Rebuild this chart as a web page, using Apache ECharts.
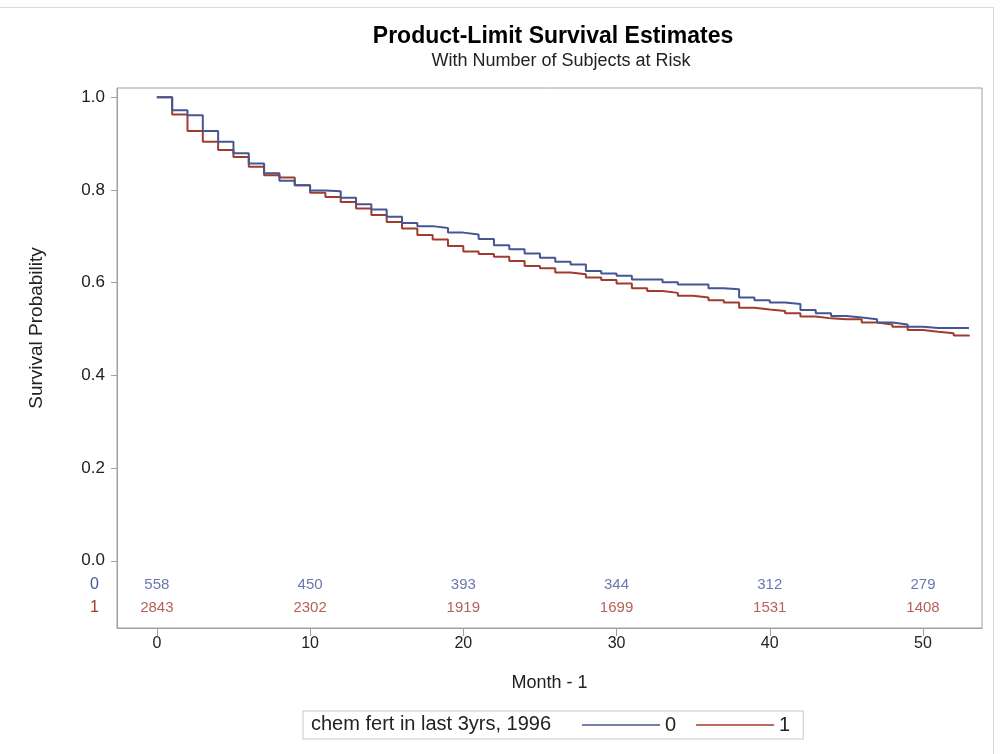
<!DOCTYPE html>
<html>
<head>
<meta charset="utf-8">
<script src="https://cdn.jsdelivr.net/npm/echarts@6/dist/echarts.min.js"></script>
<style>
  html, body { margin: 0; padding: 0; background: #fff; }
  #wrap { position: relative; width: 1000px; height: 754px; }
  #chart { width: 1000px; height: 754px; }
  #frame { position: absolute; left: 0; top: 7px; width: 993px; height: 760px;
           border-top: 1px solid #dcdcdc; border-right: 1px solid #dcdcdc; pointer-events: none; }
</style>
</head>
<body>
<div id="wrap">
<div id="chart"></div>
<div id="frame"></div>
</div>
<script>
// ---- data ----
const months = [0,1,2,3,4,5,6,7,8,9,10,11,12,13,14,15,16,17,18,19,20,21,22,23,24,25,26,27,28,29,30,31,32,33,34,35,36,37,38,39,40,41,42,43,44,45,46,47,48,49,50,51,52,53];
const survival0 = [1.000,0.972,0.961,0.927,0.904,0.879,0.857,0.836,0.820,0.810,0.799,0.797,0.783,0.769,0.758,0.742,0.729,0.722,0.718,0.708,0.704,0.694,0.681,0.672,0.663,0.654,0.645,0.639,0.625,0.620,0.615,0.607,0.607,0.601,0.596,0.596,0.588,0.586,0.568,0.562,0.557,0.554,0.541,0.534,0.528,0.525,0.521,0.514,0.510,0.505,0.502,0.502,0.502,0.502];
const survival1 = [1.000,0.963,0.927,0.904,0.886,0.871,0.850,0.832,0.827,0.810,0.794,0.785,0.774,0.760,0.746,0.731,0.717,0.703,0.693,0.679,0.667,0.662,0.656,0.647,0.636,0.631,0.622,0.618,0.611,0.606,0.598,0.588,0.582,0.578,0.572,0.568,0.562,0.557,0.546,0.542,0.539,0.534,0.527,0.523,0.521,0.521,0.514,0.510,0.505,0.498,0.494,0.491,0.486,0.484];
const riskMonths = [0,10,20,30,40,50];
const atRisk0 = [558,450,393,344,312,279];
const atRisk1 = [2843,2302,1919,1699,1531,1408];
const xTicks = [0,10,20,30,40,50];
const yTicks = [0,0.2,0.4,0.6,0.8,1.0];
const groupNames = ['0','1'];

// ---- styling constants ----
const FONT = "'Liberation Sans', Arial, sans-serif";
const BLUE = '#445694';
const RED = '#A23A2E';
const ROW0 = -0.052, ROW1 = -0.101;

const line0 = months.map((m, i) => [m, survival0[i]]);
const line1 = months.map((m, i) => [m, survival1[i]]);
const risk0 = riskMonths.map((m, i) => [m, ROW0, atRisk0[i]]);
const risk1 = riskMonths.map((m, i) => [m, ROW1, atRisk1[i]]);

const chart = echarts.init(document.getElementById('chart'), null, { renderer: 'canvas' });
chart.setOption({
  animation: false,
  backgroundColor: '#fff',
  textStyle: { fontFamily: FONT },
  title: [
    {
      text: 'Product-Limit Survival Estimates',
      left: 553, top: 25, textAlign: 'center', padding: 0,
      textStyle: { fontFamily: FONT, fontSize: 23, fontWeight: 'bold', color: '#000' }
    },
    {
      text: 'With Number of Subjects at Risk',
      left: 561, top: 52, textAlign: 'center', padding: 0,
      textStyle: { fontFamily: FONT, fontSize: 18, fontWeight: 'normal', color: '#222' }
    },
    {
      text: 'chem fert in last 3yrs, 1996',
      left: 311, top: 714, padding: 0,
      textStyle: { fontFamily: FONT, fontSize: 20, fontWeight: 'normal', color: '#222' }
    }
  ],
  legend: {
    data: groupNames,
    left: 303, top: 711,
    padding: [4, 13, 4, 279],
    borderColor: '#c8c8c8', borderWidth: 1,
    icon: 'rect', itemWidth: 78, itemHeight: 1.5, itemGap: 20,
    textStyle: { fontFamily: FONT, fontSize: 20, color: '#222', lineHeight: 20 }
  },
  grid: {
    left: 117, right: 18, top: 88, bottom: 126,
    show: true, borderColor: '#a0a0a0', borderWidth: 1, backgroundColor: '#fff'
  },
  xAxis: {
    type: 'value',
    min: -2.6, max: 53.85,
    name: 'Month - 1', nameLocation: 'middle', nameGap: 46,
    nameTextStyle: { fontFamily: FONT, fontSize: 18, color: '#222' },
    axisLine: { show: true, onZero: false, lineStyle: { color: '#a0a0a0' } },
    axisTick: { show: true, length: 8, customValues: xTicks, lineStyle: { color: '#a0a0a0' } },
    axisLabel: { customValues: xTicks, fontFamily: FONT, fontSize: 16, color: '#222', margin: 8 },
    splitLine: { show: false }
  },
  yAxis: {
    type: 'value',
    min: -0.145, max: 1.02,
    name: 'Survival Probability', nameLocation: 'middle', nameGap: 71, nameRotate: 90,
    nameTextStyle: { fontFamily: FONT, fontSize: 19, color: '#222', padding: [0, 0, 0, 60] },
    axisLine: { show: true, onZero: false, lineStyle: { color: '#a0a0a0' } },
    axisTick: { show: true, length: 6, customValues: yTicks, lineStyle: { color: '#a0a0a0' } },
    axisLabel: {
      customValues: yTicks.concat([ROW0, ROW1]),
      fontFamily: FONT, fontSize: 17, color: '#222', margin: 12,
      formatter: function (v) {
        if (v < -0.07) return '{r|' + groupNames[1] + '}';
        if (v < 0) return '{b|' + groupNames[0] + '}';
        return v.toFixed(1);
      },
      rich: {
        b: { color: BLUE, fontSize: 16, fontFamily: FONT, padding: [0, 6, 0, 0] },
        r: { color: RED, fontSize: 16, fontFamily: FONT, padding: [0, 6, 0, 0] }
      }
    },
    splitLine: { show: false }
  },
  series: [
    {
      name: groupNames[0], type: 'line', step: 'end', data: line0,
      symbol: 'none', showSymbol: false, color: BLUE,
      lineStyle: { color: BLUE, width: 2 }, z: 3
    },
    {
      name: groupNames[1], type: 'line', step: 'end', data: line1,
      symbol: 'none', showSymbol: false, color: RED,
      lineStyle: { color: RED, width: 2 }, z: 2
    },
    {
      type: 'scatter', data: risk0, symbolSize: 0, silent: true,
      label: { show: true, position: 'inside', formatter: p => String(p.value[2]), color: BLUE, fontFamily: FONT, fontSize: 15 }
    },
    {
      type: 'scatter', data: risk1, symbolSize: 0, silent: true,
      label: { show: true, position: 'inside', formatter: p => String(p.value[2]), color: RED, fontFamily: FONT, fontSize: 15 }
    }
  ]
});
</script>
</body>
</html>
